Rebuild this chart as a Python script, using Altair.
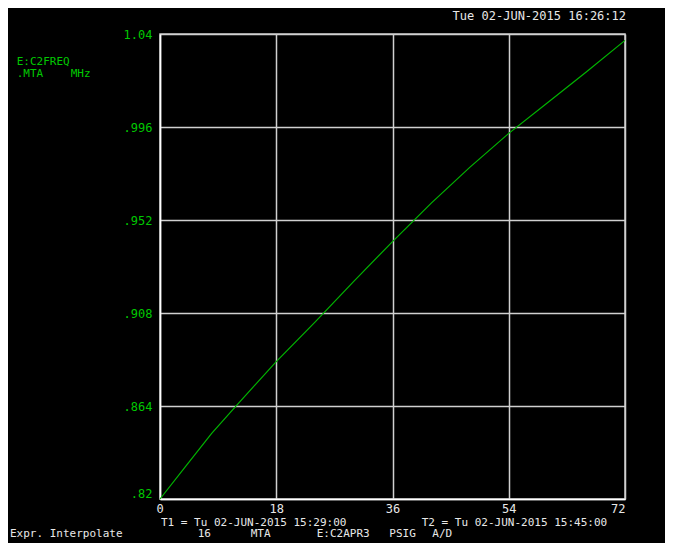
import altair as alt
import pandas as pd

# ---- data ----
x_vals = [0, 4, 8, 12, 18, 24, 30, 36, 42, 48, 54, 60, 66, 72]
freq = [0.820, 0.8355, 0.851, 0.8648, 0.885, 0.9037, 0.923, 0.9418,
        0.960, 0.977, 0.993, 1.0075, 1.022, 1.037]
y_ticks = [0.82, 0.864, 0.908, 0.952, 0.996, 1.04]
y_tick_labels = [".82", ".864", ".908", ".952", ".996", "1.04"]
x_ticks = [0, 18, 36, 54, 72]

df = pd.DataFrame({"t": x_vals, "f": freq})

FONT = "DejaVu Sans Mono"
GREEN_TXT = "#00c800"
GREEN_LINE = "#00b400"
WHITE_TXT = "#e8e8e8"

label_expr = " : ".join(
    f"abs(datum.value - {v}) < 1e-6 ? '{l}'" for v, l in zip(y_ticks, y_tick_labels)
) + " : ''"

line = alt.Chart(df).mark_line(color=GREEN_LINE, strokeWidth=1.2).encode(
    x=alt.X("t:Q", scale=alt.Scale(domain=[0, 72], nice=False, zero=False),
            axis=alt.Axis(values=x_ticks, format="d", labelColor=WHITE_TXT,
                          labelPadding=4, labelBaseline="top",
                          labelOffset={"condition": {"test": "datum.value < 1", "value": -4},
                                       "value": 0}),
            title=None),
    y=alt.Y("f:Q", scale=alt.Scale(domain=[0.82, 1.04], nice=False, zero=False),
            axis=alt.Axis(values=y_ticks, labelExpr=label_expr, labelColor=GREEN_TXT,
                          labelPadding=8, labelBaseline="middle",
                          labelOffset={"condition": {"test": "datum.value < 0.83", "value": -6},
                                       "value": 0}),
            title=None),
)


def txt(s, x, y, color=WHITE_TXT, align="left", size=12):
    return alt.Chart(alt.Data(values=[{}])).mark_text(
        font=FONT, fontSize=size, color=color, align=align, baseline="middle"
    ).encode(text=alt.value(s), x=alt.value(x), y=alt.value(y))


texts = [
    txt("Tue 02-JUN-2015 16:26:12", 466, -18.3, align="right"),
    txt("E:C2FREQ", -143.3, 28.3, color=GREEN_TXT, size=11),
    txt(".MTA", -143.3, 40, color=GREEN_TXT, size=11),
    txt("MHz", -89.3, 40, color=GREEN_TXT, size=11),
    txt("T1 = Tu 02-JUN-2015 15:29:00", 1, 488.5, size=11),
    txt("T2 = Tu 02-JUN-2015 15:45:00", 261.7, 488.5, size=11),
    txt("Expr. Interpolate", -150, 500, size=11),
    txt("16", 37.7, 500, size=11),
    txt("MTA", 90.7, 500, size=11),
    txt("E:C2APR3", 156.7, 500, size=11),
    txt("PSIG", 229.3, 500, size=11),
    txt("A/D", 272.3, 500, size=11),
]

chart = alt.layer(line, *texts).properties(
    width=465, height=465,
    autosize="none",
    padding={"left": 152, "top": 26, "right": 40, "bottom": 44},
    background="black",
).configure_view(
    stroke="#c8c8c8", strokeWidth=1.5
).configure_axis(
    grid=True, gridColor="#d0d0d0", gridWidth=1.5, gridOpacity=1,
    domainColor="#ffffff", domainWidth=1.5,
    ticks=False, labelFont=FONT, labelFontSize=12,
)

chart.save("out.html", embed_options={"renderer": "svg", "actions": False})
